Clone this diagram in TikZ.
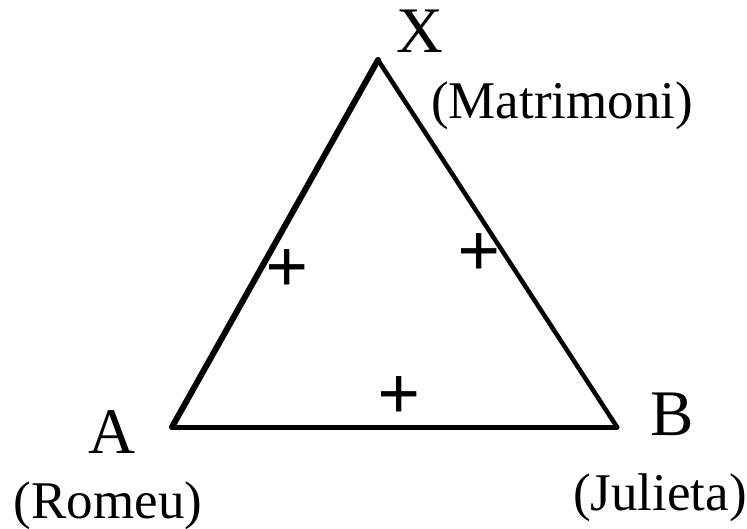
\documentclass[tikz,border=0pt]{standalone}
\usepackage{fontspec}
\setmainfont{Liberation Serif}
\begin{document}
\begin{tikzpicture}[x=1pt,y=-1pt,
  big/.style={inner sep=0pt,anchor=base,font=\fontsize{65}{65}\selectfont},
  small/.style={inner sep=0pt,anchor=base,font=\fontsize{53}{53}\selectfont},
  plus/.style={inner sep=0pt,anchor=center,font=\fontsize{76}{76}\selectfont},
  edge/.style={line width=4.5pt,line cap=round,line join=round}]
\useasboundingbox (0,0) rectangle (747,528);
\coordinate (X) at (378,60);
\coordinate (A) at (172,427);
\coordinate (B) at (617,427);
\draw[edge,line width=6pt] (A) -- (X);
\draw[edge] (X) -- (B);
\draw[edge,line width=5pt] (A) -- (B);
\node[big] (lx) at (420,52) {X};
\node[small] (lm) at (562,118) {(Matrimoni)};
\node[big] (la) at (112,453) {A};
\node[small] (lr) at (108,518) {(Romeu)};
\node[big] (lb) at (672,435) {B};
\node[small] (lj) at (660,510) {(Julieta)};
\node[plus] (p1) at (287,271) {\bfseries +};
\node[plus] (p2) at (479,255) {\bfseries +};
\node[plus] (p3) at (399,398) {\bfseries +};
\end{tikzpicture}
\end{document}
